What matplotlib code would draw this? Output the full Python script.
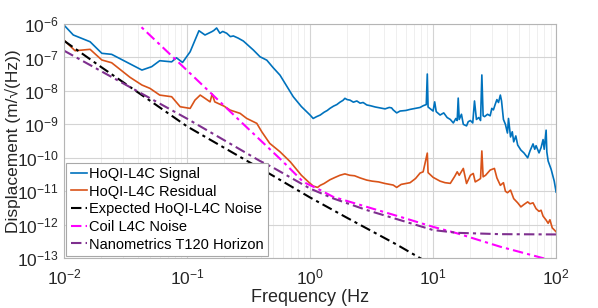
import numpy as np
import matplotlib
matplotlib.use("Agg")
from matplotlib import pyplot as plt

plt.rcParams['font.family'] = ['Liberation Sans', 'DejaVu Sans']
plt.rcParams['mathtext.default'] = 'regular'

# HoQI-L4C signal
sig_f = [0.01, 0.0119, 0.0163, 0.0203, 0.0244, 0.043, 0.0516, 0.06, 0.075, 0.082, 0.092, 0.106,
         0.125, 0.14, 0.159, 0.165, 0.174, 0.185, 0.195, 0.21, 0.225, 0.238, 0.26, 0.287, 0.346,
         0.392, 0.445, 0.5, 0.57, 0.65, 0.73, 0.85,
         1.0, 1.06, 1.13, 1.21, 1.3, 1.38, 1.45, 1.55, 1.65, 1.75, 1.85, 1.92, 2.0, 2.11, 2.25,
         2.4, 2.55, 2.7, 2.89, 3.1, 3.39, 3.7, 4.07, 4.4, 4.6, 4.74, 5.06, 5.39, 6.0, 6.5, 7.2,
         7.84, 8.3, 8.8, 8.97, 9.1, 10.0, 10.3, 10.6, 11.4, 12.2, 13.0, 13.8, 14.6, 15.3, 15.7,
         16.0, 16.3, 17.0, 17.6, 18.7, 19.3, 20.1, 21.0, 21.7, 22.5, 23.5, 24.3, 24.9, 25.5,
         26.2, 27.7, 29.1, 30.0, 30.9, 32.0, 33.0, 34.0, 35.2, 36.0, 37.3, 38.7, 40.2, 41.0,
         42.6, 44.0, 45.2, 47.0, 48.7, 51.7, 54.7, 58.7, 61.3, 64.9, 67.0, 68.7, 72.6, 75.4,
         78.3, 80.0, 82.9, 84.0, 86.1, 91.1, 96.5, 100]
sig_d = [9.3e-7, 4.7e-7, 2.95e-7, 1.33e-7, 1.24e-7, 4.2e-8, 5.3e-8, 8.0e-8, 7.4e-8, 9.8e-8, 7.1e-8, 1.48e-7,
         6.3e-7, 4.7e-7, 5.9e-7, 6.4e-7, 7.6e-7, 5.3e-7, 6.0e-7, 5.3e-7, 4.2e-7, 4.4e-7, 3.8e-7, 3.1e-7, 1.67e-7,
         1.05e-7, 8.3e-8, 5.0e-8, 2.95e-8, 1.35e-8, 6.7e-9, 3.4e-9,
         1.9e-9, 1.5e-9, 1.7e-9, 1.9e-9, 2.3e-9, 2.6e-9, 3.0e-9, 3.5e-9, 3.9e-9, 4.6e-9, 5.2e-9, 6.0e-9, 5.5e-9, 5.3e-9, 4.6e-9,
         5.0e-9, 4.3e-9, 4.5e-9, 3.8e-9, 3.6e-9, 3.3e-9, 3.1e-9, 2.9e-9, 3.2e-9, 3.1e-9, 2.7e-9, 2.2e-9, 2.5e-9, 2.6e-9, 2.8e-9, 3.0e-9,
         3.2e-9, 3.6e-9, 3.9e-9, 3.2e-8, 3.3e-9, 2.5e-9, 4.7e-9, 2.4e-9, 1.9e-9, 2.2e-9, 1.6e-9, 1.4e-9, 1.1e-9, 1.5e-9, 1.3e-9,
         6.1e-9, 1.4e-9, 2.0e-9, 1.0e-9, 9.0e-10, 1.2e-9, 1.3e-9, 1.1e-9, 5.0e-9, 1.4e-9, 1.6e-9, 1.3e-9, 3.0e-8, 1.8e-9,
         1.7e-9, 2.0e-9, 1.8e-9, 3.0e-9, 2.7e-9, 4.0e-9, 5.5e-9, 4.5e-9, 7.5e-9, 5.0e-9, 1.4e-9, 1.0e-9, 5.5e-10, 1.5e-9,
         4.2e-10, 6.0e-10, 3.0e-10, 4.5e-10, 2.4e-10, 1.7e-10, 1.4e-10, 1.0e-10, 1.6e-10, 2.6e-10, 1.8e-10, 2.3e-10, 1.4e-10, 2.0e-10,
         3.5e-10, 1.8e-10, 6.7e-10, 1.5e-10, 8.0e-11, 4.5e-11, 2.0e-11, 9.4e-12]

# HoQI-L4C residual
res_f = [0.01, 0.0123, 0.0163, 0.0203, 0.0244, 0.0344, 0.043, 0.05, 0.06, 0.075, 0.088, 0.106,
         0.116, 0.128, 0.14, 0.154, 0.16, 0.168, 0.2, 0.224, 0.27, 0.305, 0.369, 0.405, 0.47,
         0.57, 0.69, 0.85, 0.97,
         1.06, 1.15, 1.21, 1.3, 1.45, 1.6, 1.75, 1.92, 2.1, 2.3, 2.55, 2.89, 3.2, 3.6, 4.07,
         4.74, 5.06, 5.5, 6.5, 7.2, 7.84, 8.3, 8.97, 9.1, 10.0, 11.4, 12.5, 13.8, 15.0, 15.7,
         16.3, 17.6, 18.7, 20.1, 21.2, 22.0, 23.5, 24.3, 24.9, 25.5, 26.7, 29.1, 31.5, 33.0,
         35.2, 37.3, 38.7, 40.2, 42.6, 45.2, 48.7, 51.7, 54.7, 58.7, 61.3, 64.9, 68.7, 72.6,
         75.4, 78.3, 82.9, 86.1, 89.0, 93.0, 96.5, 100]
res_d = [3.3e-7, 1.59e-7, 1.75e-7, 8.4e-8, 6.95e-8, 2.55e-8, 1.5e-8, 1.19e-8, 7.5e-9, 6.7e-9, 3.36e-9, 3.0e-9,
         5.3e-9, 7.5e-9, 6.0e-9, 4.7e-9, 8.1e-9, 4.7e-9, 3.5e-9, 2.67e-9, 2.13e-9, 1.51e-9, 1.07e-9, 6.0e-10, 2.7e-10,
         1.51e-10, 7.6e-11, 3.0e-11, 1.9e-11,
         1.43e-11, 1.3e-11, 1.5e-11, 1.7e-11, 2.2e-11, 2.6e-11, 3.0e-11, 3.3e-11, 3.0e-11, 2.9e-11, 2.5e-11, 2.15e-11, 2.0e-11, 1.9e-11, 1.7e-11,
         1.53e-11, 1.3e-11, 1.6e-11, 1.8e-11, 2.4e-11, 3.5e-11, 3.8e-11, 1.38e-10, 3.6e-11, 2.6e-11, 2.0e-11, 1.8e-11, 1.72e-11, 2.8e-11, 3.8e-11,
         3.0e-11, 4.8e-11, 1.7e-11, 3.0e-11, 3.4e-11, 1.9e-11, 2.2e-11, 2.4e-11, 1.6e-10, 2.7e-11, 3.0e-11, 4.3e-11, 4.8e-11, 2.5e-11,
         1.5e-11, 1.8e-11, 1.0e-11, 9.0e-12, 1.08e-11, 6.0e-12, 4.5e-12, 3.4e-12, 4.0e-12, 4.8e-12, 4.2e-12, 4.5e-12, 3.0e-12, 2.5e-12,
         2.7e-12, 1.8e-12, 1.37e-12, 1.1e-12, 1.4e-12, 8.0e-13, 7.0e-13, 6.1e-13]

# Expected HoQI-L4C noise
exp_f = [0.01, 0.02, 0.05, 0.1, 0.2, 0.5, 1.0, 2.0, 5.0, 7.84, 10.0]
exp_d = [3.16e-7, 5.2e-8, 5.1e-9, 8.7e-10, 2.0e-10, 2.9e-11, 6.5e-12, 1.6e-12, 2.6e-13, 1.0e-13, 6.1e-14]

# Coil L4C noise
coil_f = [0.035, 0.106, 0.3, 0.6, 0.88, 1.2, 1.54, 2.89, 5.39, 10.0, 15.7, 35.0, 78.0, 100.0]
coil_d = [1.6e-6, 3.35e-8, 8.7e-10, 7.8e-11, 1.9e-11, 1.1e-11, 6.8e-12, 3.4e-12, 1.72e-12, 8.6e-13, 5.5e-13, 2.2e-13, 1.0e-13, 7.8e-14]

# Nanometrics T120 horizon
t120_f = [0.01, 0.1, 0.39, 0.5, 1.0, 1.54, 2.89, 5.39, 10.0, 15.7, 35.0, 100.0]
t120_d = [1.6e-7, 1.48e-9, 8.1e-11, 5.1e-11, 1.2e-11, 6.1e-12, 2.73e-12, 1.37e-12, 6.9e-13, 5.7e-13, 5.2e-13, 5.1e-13]

fig = plt.figure(figsize=(5.98, 3.08), dpi=100)
ax = fig.add_axes([0.107, 0.162, 0.823, 0.760])

dd = (0, (5, 2, 1.5, 2))
ax.loglog(sig_f, sig_d, color='#0072BD', lw=1.2, label='HoQI-L4C Signal')
ax.loglog(res_f, res_d, color='#D95319', lw=1.2, label='HoQI-L4C Residual')
ax.loglog(exp_f, exp_d, color='black', lw=1.5, ls=dd, label='Expected HoQI-L4C Noise')
ax.loglog(coil_f, coil_d, color='#FF00FF', lw=1.5, ls=dd, label='Coil L4C Noise')
ax.loglog(t120_f, t120_d, color='#7E2F8E', lw=1.5, ls=dd, label='Nanometrics T120 Horizon')

ax.set_xlim(1e-2, 1e2)
ax.set_ylim(1e-13, 1e-6)
ax.set_yticks([10.0 ** k for k in range(-13, -5)])
ax.set_xticks([10.0 ** k for k in range(-2, 3)])

ax.grid(True, which='major', color='#d4d4d4', lw=0.8)
ax.grid(True, which='minor', color='#ededed', lw=0.6)
ax.set_axisbelow(True)
for s in ax.spines.values():
    s.set_color('#b5b5b5')
    s.set_linewidth(0.8)
ax.tick_params(which='both', length=0, labelsize=12.5, colors='#262626')
ax.tick_params(axis='y', pad=4)
ax.tick_params(axis='x', pad=7)

ax.set_xlabel('Frequency (Hz', fontsize=13, color='#262626', labelpad=1)
ax.set_ylabel('Displacement (m/\u221a(Hz))', fontsize=12.5, color='#262626')
ax.yaxis.set_label_coords(-0.088, 0.5)

leg = ax.legend(loc='lower left', fontsize=10.5, handlelength=1.15, handletextpad=0.1,
                labelspacing=0.25, borderpad=0.3, borderaxespad=0.15, fancybox=False,
                framealpha=1, edgecolor='#a8a8a8')
leg.get_frame().set_linewidth(0.8)

fig.savefig('out.png', dpi=100)
